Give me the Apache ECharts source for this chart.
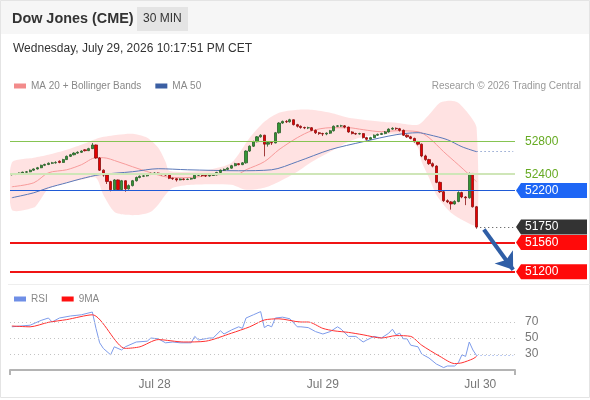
<!DOCTYPE html>
<html>
<head>
<meta charset="utf-8">
<script src="https://cdn.jsdelivr.net/npm/echarts@6/dist/echarts.min.js"></script>
<style>
html, body { margin: 0; padding: 0; background: #fff; }
#chart { width: 590px; height: 400px; }
</style>
</head>
<body>
<div id="chart"></div>
<script>
// 30 min bars, one slot per bar plus empty slots on the right
var slotCount = 138;
var dayLabels = ['Jul 28', 'Jul 29', 'Jul 30'];
var dayLabelSlots = [39, 85, 128];

// [open, close, low, high]
var ohlc = [
    [52395, 52405, 52385, 52415], [52405, 52400, 52390, 52412], [52400, 52415, 52395, 52422], [52415, 52425, 52408, 52432],
    [52425, 52430, 52418, 52440], [52430, 52450, 52425, 52458], [52450, 52465, 52442, 52472], [52465, 52480, 52458, 52490],
    [52480, 52510, 52475, 52518], [52510, 52520, 52500, 52530], [52520, 52535, 52512, 52545], [52535, 52540, 52525, 52552],
    [52540, 52545, 52530, 52560], [52560, 52545, 52535, 52570], [52545, 52580, 52540, 52590], [52580, 52620, 52575, 52630],
    [52620, 52640, 52612, 52650], [52640, 52660, 52632, 52670], [52660, 52670, 52650, 52682], [52670, 52685, 52662, 52695],
    [52700, 52690, 52680, 52708], [52690, 52715, 52685, 52725], [52715, 52760, 52710, 52785], [52760, 52600, 52590, 52765],
    [52600, 52450, 52440, 52610], [52450, 52390, 52370, 52460], [52390, 52310, 52280, 52400], [52310, 52210, 52190, 52320],
    [52210, 52330, 52200, 52340], [52330, 52210, 52200, 52335], [52210, 52320, 52205, 52330], [52320, 52220, 52185, 52325],
    [52220, 52260, 52210, 52275], [52260, 52320, 52250, 52330], [52320, 52360, 52310, 52372], [52360, 52375, 52350, 52385],
    [52375, 52380, 52365, 52392], [52380, 52400, 52372, 52410], [52400, 52410, 52390, 52420], [52410, 52415, 52400, 52425],
    [52415, 52400, 52392, 52422], [52400, 52395, 52385, 52408], [52395, 52390, 52380, 52402], [52390, 52350, 52340, 52398],
    [52350, 52345, 52330, 52358], [52345, 52330, 52310, 52352], [52330, 52342, 52325, 52350], [52342, 52335, 52325, 52350],
    [52335, 52340, 52328, 52348], [52340, 52348, 52332, 52356], [52348, 52388, 52340, 52398], [52388, 52392, 52378, 52400],
    [52392, 52384, 52370, 52398], [52384, 52378, 52366, 52392], [52378, 52386, 52370, 52395], [52386, 52392, 52380, 52400],
    [52392, 52422, 52386, 52430], [52422, 52450, 52415, 52458], [52450, 52460, 52440, 52470], [52460, 52475, 52452, 52485],
    [52475, 52505, 52468, 52515], [52505, 52530, 52498, 52540], [52530, 52518, 52510, 52538], [52518, 52540, 52512, 52550],
    [52540, 52685, 52530, 52695], [52685, 52745, 52675, 52755], [52745, 52800, 52735, 52812], [52800, 52860, 52792, 52870],
    [52860, 52880, 52850, 52892], [52880, 52770, 52620, 52885], [52770, 52790, 52740, 52800], [52790, 52785, 52760, 52800],
    [52785, 52910, 52780, 52920], [52910, 53030, 52900, 53040], [53030, 53050, 53020, 53060], [53050, 53045, 53030, 53065],
    [53045, 53070, 53035, 53082], [53070, 53010, 53000, 53075], [53010, 52990, 52975, 53020], [52990, 52975, 52960, 53000],
    [52975, 52970, 52955, 52985], [52970, 52972, 52955, 52985], [52972, 52940, 52930, 52980], [52940, 52910, 52895, 52950],
    [52910, 52900, 52885, 52920], [52900, 52895, 52870, 52910], [52895, 52905, 52880, 52915], [52905, 52935, 52895, 52945],
    [52935, 52990, 52925, 53000], [52990, 52995, 52980, 53005], [52995, 52995, 52982, 53008], [52995, 52980, 52965, 53005],
    [52980, 52920, 52910, 52985], [52920, 52900, 52890, 52930], [52900, 52895, 52885, 52910], [52895, 52900, 52888, 52910],
    [52900, 52850, 52840, 52905], [52850, 52830, 52815, 52860], [52830, 52850, 52825, 52860], [52850, 52880, 52845, 52890],
    [52880, 52890, 52872, 52900], [52890, 52900, 52882, 52910], [52900, 52920, 52892, 52932], [52920, 52955, 52912, 52965],
    [52955, 52965, 52945, 52978], [52965, 52960, 52945, 52975], [52960, 52940, 52925, 52970], [52940, 52880, 52870, 52950],
    [52880, 52860, 52848, 52890], [52860, 52840, 52830, 52872], [52840, 52800, 52790, 52850], [52800, 52770, 52755, 52810],
    [52770, 52625, 52610, 52778], [52625, 52580, 52565, 52640], [52580, 52530, 52515, 52590], [52530, 52500, 52485, 52545],
    [52500, 52300, 52290, 52510], [52300, 52185, 52170, 52310], [52185, 52075, 52060, 52195], [52075, 52060, 52045, 52090],
    [52060, 52035, 51965, 52070], [52035, 52065, 52025, 52080], [52065, 52175, 52055, 52190], [52175, 52120, 52105, 52185],
    [52120, 52110, 52020, 52130], [52110, 52410, 52100, 52420], [52410, 52000, 51990, 52415], [52000, 51750, 51730, 52010]
];

// indicator lines as [bar, value]
var ma20 = [[0, 52246], [6, 52295], [10, 52418], [15, 52455], [19, 52517], [23, 52603], [25, 52603], [29, 52554],
    [33, 52492], [38, 52418], [42, 52369], [47, 52357], [51, 52369], [56, 52394], [62, 52406], [64, 52455],
    [69, 52554], [73, 52702], [78, 52849], [82, 52935], [87, 52972], [92, 52972], [96, 52948], [101, 52923],
    [105, 52935], [111, 52923], [114, 52849], [118, 52677], [122, 52517], [125, 52394], [127, 52308]];
var ma50 = [[0, 52111], [6, 52172], [10, 52234], [15, 52295], [19, 52345], [24, 52394], [33, 52431], [40, 52468],
    [48, 52455], [62, 52443], [71, 52455], [78, 52554], [87, 52702], [96, 52800], [105, 52886], [111, 52911],
    [114, 52886], [119, 52825], [123, 52738], [127, 52677]];
var bandUpper = [[0, 52541], [6, 52603], [10, 52640], [15, 52702], [19, 52763], [24, 52849], [29, 52886], [33, 52898],
    [37, 52849], [40, 52726], [42, 52554], [43, 52443], [48, 52431], [54, 52455], [60, 52540], [65, 52849],
    [69, 53046], [73, 53157], [78, 53194], [82, 53194], [87, 53157], [92, 53095], [96, 53071], [101, 53046],
    [105, 53034], [111, 53009], [114, 53132], [117, 53280], [120, 53305], [122, 53280], [125, 53132], [127, 52972]];
var bandLower = [[0, 51963], [6, 51990], [8, 52100], [10, 52220], [15, 52295], [19, 52332], [23, 52357], [25, 52148],
    [28, 51938], [31, 51901], [35, 51901], [38, 51938], [40, 52025], [42, 52148], [44, 52234], [49, 52271],
    [60, 52271], [64, 52209], [69, 52234], [73, 52308], [78, 52431], [82, 52554], [87, 52677], [92, 52800],
    [96, 52862], [101, 52886], [105, 52898], [108, 52862], [111, 52726], [112, 52554], [114, 52357], [116, 52148],
    [118, 52025], [120, 51926], [123, 51840], [127, 51778]];

var rsi = [[0, 64], [5, 66], [8, 72], [10, 75], [11, 70], [13, 75], [16, 77.5], [19, 79], [22, 82.5], [23, 62],
    [24, 44], [25, 37], [27, 29], [28, 39], [30, 35], [31, 39], [34, 45], [37, 46], [38, 50], [40, 49], [42, 44],
    [44, 45], [46, 44], [49, 44], [50, 52], [51, 47.5], [54, 50], [55, 50], [57, 59], [58, 55], [60, 60], [62, 64],
    [63, 62], [64, 75], [66, 79], [68, 83], [69, 63], [70, 66], [71, 64], [72, 75], [74, 76], [76, 74], [78, 64],
    [79, 64], [81, 63], [83, 58], [85, 55], [87, 58], [89, 64], [90, 61], [92, 52], [94, 52], [96, 45], [97, 47.5],
    [99, 52], [101, 50], [103, 56], [104, 61], [105, 54], [106, 56], [107, 49], [108, 49], [109, 41], [111, 39],
    [112, 30], [114, 25], [116, 17.5], [118, 13], [119, 15], [121, 15], [122, 19], [123, 29], [124, 27], [125, 45],
    [126, 35], [127, 28]];
var rsiMa = [[0, 65], [5, 64], [10, 69.6], [15, 73], [22, 79], [31, 37], [35, 39], [40, 48], [47, 45], [53, 46],
    [60, 56], [65, 64], [69, 72.5], [73, 74], [79, 70], [81, 70], [85, 62], [88, 59], [92, 57], [96, 54], [101, 50],
    [105, 53], [109, 52], [112, 41], [117, 27], [121, 18], [123, 19], [126, 24], [127, 27]];
var rsiLevels = [70, 50, 30];

// analyst levels and price tags
var resistances = [52800, 52400];
var pivot = 52200;
var supports = [51560, 51200];
var lastPrice = 51750;
var arrowFrom = [128.5, 51720];
var arrowTo = [136.8, 51225];

var lastBar = ohlc.length - 1;
var lastSlot = slotCount - 1;

var categories = [];
for (var s = 0; s < slotCount; s++) {
    var k = dayLabelSlots.indexOf(s);
    categories.push(k >= 0 ? dayLabels[k] : '');
}

var tagValues = resistances.concat([pivot, lastPrice]).concat(supports);
var tagFill = [null, null, '#1e66f5', '#333333', '#ff0a0a', '#ff0a0a'];
var tagText = ['#66aa22', '#66aa22', '#fff', '#fff', '#fff', '#fff'];

var FONT = '"Liberation Sans", Arial, sans-serif';
var chart = echarts.init(document.getElementById('chart'));

var option = {
    animation: false,
    textStyle: { fontFamily: FONT },
    graphic: [
        { type: 'rect', shape: { x: 0, y: 0, width: 590, height: 34 }, style: { fill: '#f6f6f6' }, z: -10 },
        { type: 'rect', shape: { x: 0.5, y: 0.5, width: 589, height: 397 }, style: { fill: 'none', stroke: '#e4e4e4' }, z: -9 },
        { type: 'rect', shape: { x: 137, y: 7, width: 51, height: 24 }, style: { fill: '#e4e4e4' }, z: -8 },
        { type: 'text', left: 12, top: 12, style: { text: 'Dow Jones (CME)', font: 'bold 14.4px ' + FONT, fill: '#333' } },
        { type: 'text', left: 143, top: 13, style: { text: '30 MIN', font: '12px ' + FONT, fill: '#333' } },
        { type: 'text', left: 13, top: 43, style: { text: 'Wednesday, July 29, 2026 10:17:51 PM CET', font: '12px ' + FONT, fill: '#333' } },
        { type: 'text', right: 9, top: 81, style: { text: 'Research \u00a9 2026 Trading Central', font: '10px ' + FONT, fill: '#999' } },
        { type: 'line', shape: { x1: 8, y1: 284.5, x2: 590, y2: 284.5 }, style: { stroke: '#eeeeee', lineWidth: 1 } }
    ],
    legend: [
        {
            left: 14, top: 81, padding: 0, itemWidth: 12, itemHeight: 5, itemGap: 14, icon: 'rect',
            textStyle: { color: '#888', fontSize: 10 },
            data: [
                { name: 'MA 20 + Bollinger Bands', itemStyle: { color: '#f28b8b' } },
                { name: 'MA 50', itemStyle: { color: '#3b5fa3' } }
            ]
        },
        {
            left: 14, top: 294, padding: 0, itemWidth: 12, itemHeight: 5, itemGap: 14, icon: 'rect',
            textStyle: { color: '#888', fontSize: 10 },
            data: [
                { name: 'RSI', itemStyle: { color: '#6f8fe6' } },
                { name: '9MA', itemStyle: { color: '#ff1010' } }
            ]
        }
    ],
    grid: [
        { left: 10, right: 75, top: 97, height: 187 },
        { left: 10, right: 75, top: 306, height: 64 }
    ],
    xAxis: [
        { type: 'category', gridIndex: 0, data: categories, show: false },
        {
            type: 'category', gridIndex: 1, data: categories,
            axisLine: { lineStyle: { color: '#b4b4b4', width: 2 } },
            axisTick: { show: true, length: 5, lineStyle: { color: '#b4b4b4', width: 2 },
                interval: function (idx) { return idx === 0; } },
            axisLabel: { color: '#777', fontSize: 12, margin: 9,
                interval: function (idx, val) { return val !== ''; } }
        }
    ],
    yAxis: [
        { type: 'value', gridIndex: 0, min: 51050, max: 53350, show: false, splitLine: { show: false } },
        {
            type: 'value', gridIndex: 1, position: 'right', min: 10, max: 90, interval: 20,
            splitLine: { show: false }, axisLine: { show: false }, axisTick: { show: false },
            axisLabel: { color: '#777', fontSize: 12, margin: 10,
                formatter: function (v) { return rsiLevels.indexOf(v) >= 0 ? String(v) : ''; } }
        }
    ],
    series: [
        {
            type: 'custom', name: 'band', xAxisIndex: 0, yAxisIndex: 0, silent: true, clip: true, z: 1,
            data: [[0, 52000]],
            renderItem: function (params, api) {
                var top = bandUpper.map(function (p) { return api.coord(p); });
                var bottom = bandLower.slice().reverse().map(function (p) { return api.coord(p); });
                return {
                    type: 'polygon',
                    shape: { points: top.concat(bottom), smooth: 0.25 },
                    style: { fill: 'rgba(255, 60, 60, 0.15)' }
                };
            }
        },
        {
            type: 'line', name: 'MA 20 + Bollinger Bands', xAxisIndex: 0, yAxisIndex: 0, data: ma20,
            smooth: 0.3, showSymbol: false, z: 2, lineStyle: { color: '#f79a9a', width: 1 }, itemStyle: { color: '#f28b8b' }
        },
        {
            type: 'line', name: 'MA 50', xAxisIndex: 0, yAxisIndex: 0, data: ma50,
            smooth: 0.3, showSymbol: false, z: 2, lineStyle: { color: '#5a78b8', width: 1 }, itemStyle: { color: '#3b5fa3' },
            markLine: {
                silent: true, symbol: 'none', label: { show: false },
                lineStyle: { color: '#5a78b8', width: 1, type: [1, 3] },
                data: [[{ coord: ma50[ma50.length - 1] }, { coord: [lastSlot, ma50[ma50.length - 1][1]] }]]
            }
        },
        {
            type: 'candlestick', name: 'Dow', xAxisIndex: 0, yAxisIndex: 0, data: ohlc, barWidth: 2.6, z: 3,
            itemStyle: { color: '#349634', color0: '#e60000', borderColor: '#2a5e2a', borderColor0: '#8a1010', borderWidth: 0.8 },
            markLine: {
                silent: true, symbol: 'none', label: { show: false },
                data: [
                    { yAxis: resistances[0], lineStyle: { color: '#86c452', width: 1, type: 'solid' } },
                    { yAxis: resistances[1], lineStyle: { color: '#cfe6b8', width: 2, type: 'solid' } },
                    { yAxis: pivot, lineStyle: { color: '#1f5ad6', width: 1, type: 'solid' } },
                    { yAxis: supports[0], lineStyle: { color: '#f01414', width: 2, type: 'solid' } },
                    { yAxis: supports[1], lineStyle: { color: '#f01414', width: 2, type: 'solid' } },
                    [{ coord: [lastBar + 1, lastPrice], lineStyle: { color: '#444', width: 1, type: [1, 3] } },
                        { coord: [lastSlot, lastPrice] }],
                    [{ coord: arrowFrom, symbol: 'none', lineStyle: { color: '#2f5ea6', width: 4, type: 'solid' } },
                        { coord: arrowTo, symbol: 'arrow', symbolSize: [17, 16] }]
                ]
            }
        },
        {
            type: 'custom', name: 'tags', xAxisIndex: 0, yAxisIndex: 0, silent: true, clip: false, z: 10,
            data: tagValues.map(function (v) { return [lastBar, v]; }),
            encode: { x: 0, y: 1 },
            renderItem: function (params, api) {
                var i = params.dataIndex;
                var y = api.coord([api.value(0), api.value(1)])[1];
                var x0 = params.coordSys.x + params.coordSys.width;
                var children = [];
                if (tagFill[i]) {
                    children.push({
                        type: 'polygon',
                        shape: { points: [[x0 + 1, y], [x0 + 6, y - 7.5], [x0 + 72, y - 7.5], [x0 + 72, y + 7.5], [x0 + 6, y + 7.5]] },
                        style: { fill: tagFill[i] }
                    });
                }
                children.push({
                    type: 'text',
                    style: { text: String(api.value(1)), x: x0 + 10, y: y, verticalAlign: 'middle',
                        fill: tagText[i], font: '12px ' + FONT }
                });
                return { type: 'group', children: children };
            }
        },
        {
            type: 'line', name: 'RSI', xAxisIndex: 1, yAxisIndex: 1, data: rsi,
            showSymbol: false, lineStyle: { color: '#7d9bea', width: 1 }, itemStyle: { color: '#6f8fe6' }, z: 3,
            markLine: {
                silent: true, symbol: 'none', label: { show: false },
                data: rsiLevels.map(function (v) {
                    return { yAxis: v, lineStyle: { color: '#c4c4c4', width: 1, type: [1, 3] } };
                }).concat([[{ coord: rsi[rsi.length - 1], lineStyle: { color: '#7d9bea', width: 1, type: [1, 3] } },
                    { coord: [lastSlot, rsi[rsi.length - 1][1]] }]])
            }
        },
        {
            type: 'line', name: '9MA', xAxisIndex: 1, yAxisIndex: 1, data: rsiMa,
            smooth: 0.25, showSymbol: false, lineStyle: { color: '#ff3030', width: 1 }, itemStyle: { color: '#ff1010' }, z: 4
        }
    ]
};

chart.setOption(option);
</script>
</body>
</html>
